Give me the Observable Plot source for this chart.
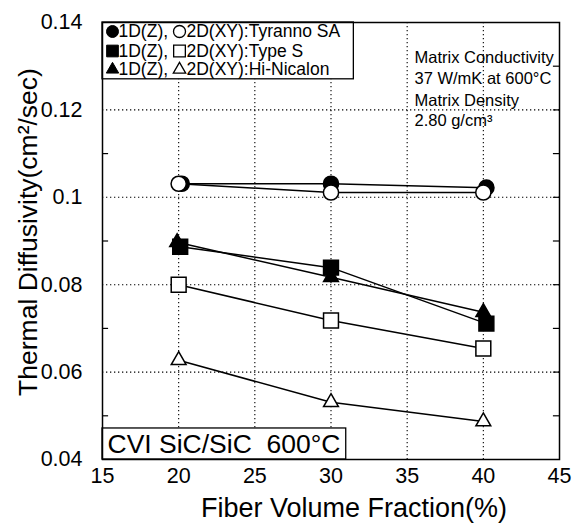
<!DOCTYPE html>
<html><head><meta charset="utf-8">
<script src="https://cdn.jsdelivr.net/npm/d3@7"></script>
<script src="https://cdn.jsdelivr.net/npm/@observablehq/plot@0.6"></script>
<style>
body{margin:0;background:#fff}
#chart svg{font-family:"Liberation Sans", Arial, Helvetica, sans-serif}
</style>
</head><body><div id="chart"></div>
<script>
// ---- data ----
const xTicks = [15, 20, 25, 30, 35, 40, 45];
const yTicks = [0.04, 0.06, 0.08, 0.1, 0.12, 0.14];
const xGrid = [20, 25, 30, 35, 40];
const yGrid = [0.06, 0.08, 0.1, 0.12];
const yMinorLeft = [0.05, 0.07, 0.09, 0.11, 0.13];
const yMinorRight = [0.05, 0.06, 0.07, 0.08, 0.09, 0.1, 0.11, 0.12, 0.13];

const tyrannoX1D = [20.2, 30, 40.2];
const tyranno1D  = [0.1031, 0.1031, 0.1022];
const tyrannoX2D = [20, 30, 40];
const tyranno2D  = [0.1031, 0.1011, 0.1011];
const typeSX1D = [20.1, 30, 40.2];
const typeS1D  = [0.0887, 0.0839, 0.0711];
const typeSX2D = [20, 30, 40];
const typeS2D  = [0.0800, 0.0718, 0.0654];
const hiNicX1D = [19.9, 30, 40];
const hiNic1D  = [0.0897, 0.0817, 0.0737];
const hiNicX2D = [20, 30, 40];
const hiNic2D  = [0.0627, 0.0531, 0.0487];

const legendNames = ["Tyranno SA", "Type S", "Hi-Nicalon"];
const legendSymbols = ["circle", "square", "triangle"];
const noteLines = ["Matrix Conductivity", "37 W/mK at 600\u00B0C", "Matrix Density", "2.80 g/cm\u00B3"];
const boxLabel = "CVI SiC/SiC  600\u00B0C";
const xLabel = "Fiber Volume Fraction(%)";
const yLabel = "Thermal Diffusivity(cm\u00B2/sec)";

// ---- build tables ----
const mk = (xs, ys) => xs.map((x, i) => ({x, y: ys[i]}));
const rOf = {circle: 7.6, square: 8.4, triangle: 5.5};
const rLeg = {circle: 6, square: 6.6, triangle: 4.6};
const series = [
  {d: mk(hiNicX1D, hiNic1D), symbol: "triangle", fill: "#000"},
  {d: mk(typeSX1D, typeS1D), symbol: "square", fill: "#000"},
  {d: mk(tyrannoX1D, tyranno1D), symbol: "circle", fill: "#000"},
  {d: mk(hiNicX2D, hiNic2D), symbol: "triangle", fill: "#fff"},
  {d: mk(typeSX2D, typeS2D), symbol: "square", fill: "#fff"},
  {d: mk(tyrannoX2D, tyranno2D), symbol: "circle", fill: "#fff"}
];

const dotted = {stroke: "#000", strokeWidth: 1.1, strokeDasharray: "1.3,2.7"};
const rowDy = [9, 28.5, 47];

const marks = [
  Plot.ruleX(xGrid, dotted),
  Plot.ruleY(yGrid, dotted),
  Plot.ruleY(yMinorLeft, {x1: 15, x2: 15.4, stroke: "#000", strokeWidth: 1.2}),
  Plot.ruleY(yMinorRight, {x1: 44.6, x2: 45, stroke: "#000", strokeWidth: 1.2}),
  ...series.map(s => Plot.line(s.d, {x: "x", y: "y", stroke: "#000", strokeWidth: 1.5})),
  ...series.map(s => Plot.dot(s.d, {x: "x", y: "y", symbol: () => s.symbol, r: rOf[s.symbol],
      fill: s.fill, stroke: "#000", strokeWidth: 1.5})),
  // legend box (top-left) and label box (bottom-left)
  Plot.rect([0], {x1: 15, x2: 31.5, y1: 0.127, y2: 0.14, fill: "#fff", stroke: "#000", strokeWidth: 1.3}),
  Plot.rect([0], {x1: 15, x2: 31.0, y1: 0.04, y2: 0.0471, fill: "#fff", stroke: "#000", strokeWidth: 1.3}),
  ...legendSymbols.flatMap((sym, i) => [
    Plot.dot([0], {frameAnchor: "top-left", dx: 10, dy: rowDy[i], symbol: () => sym, r: rLeg[sym], fill: "#000", stroke: "#000", strokeWidth: 1}),
    Plot.dot([0], {frameAnchor: "top-left", dx: 77, dy: rowDy[i], symbol: () => sym, r: rLeg[sym], fill: "#fff", stroke: "#000", strokeWidth: 1.3}),
    Plot.text(["1D(Z),"], {frameAnchor: "top-left", textAnchor: "start", lineAnchor: "middle",
      dx: 16, dy: rowDy[i], fontSize: 17.5, fill: "#000"}),
    Plot.text(["2D(XY):" + legendNames[i]], {frameAnchor: "top-left", textAnchor: "start", lineAnchor: "middle",
      dx: 84, dy: rowDy[i], fontSize: 17.5, fill: "#000"})
  ]),
  ...noteLines.map((t, i) => Plot.text([t], {frameAnchor: "top-left", textAnchor: "start", lineAnchor: "middle",
      dx: 312, dy: [35, 56, 78, 98][i], fontSize: 16.5, fill: "#000"})),
  Plot.text([boxLabel], {frameAnchor: "bottom-left", textAnchor: "start", lineAnchor: "middle",
      dx: 5, dy: -15, fontSize: 26.5, fill: "#000"}),
  Plot.axisX({ticks: xTicks, tickSize: 0, tickPadding: 8, fontSize: 21.5, label: null, tickFormat: d => String(d)}),
  Plot.axisY({ticks: yTicks, tickSize: 0, tickPadding: 20, fontSize: 21.5, label: null, tickFormat: d => String(+d.toFixed(2))}),
  Plot.text([xLabel], {frameAnchor: "bottom", textAnchor: "middle", lineAnchor: "middle", dx: 23, dy: 49, fontSize: 27, fill: "#000"}),
  Plot.text([yLabel], {frameAnchor: "left", textAnchor: "middle", lineAnchor: "middle", rotate: -90, dx: -74, dy: -9, fontSize: 26.5, fill: "#000"}),
  Plot.frame({stroke: "#000", strokeWidth: 1.5})
];

const chart = Plot.plot({
  width: 575, height: 524,
  marginLeft: 102, marginRight: 16, marginTop: 22, marginBottom: 65,
  style: {background: "#fff", color: "#000", fontFamily: "Liberation Sans, Arial, sans-serif"},
  x: {domain: [15, 45]},
  y: {domain: [0.04, 0.14]},
  marks
});
document.getElementById("chart").appendChild(chart);
</script>
</body></html>
